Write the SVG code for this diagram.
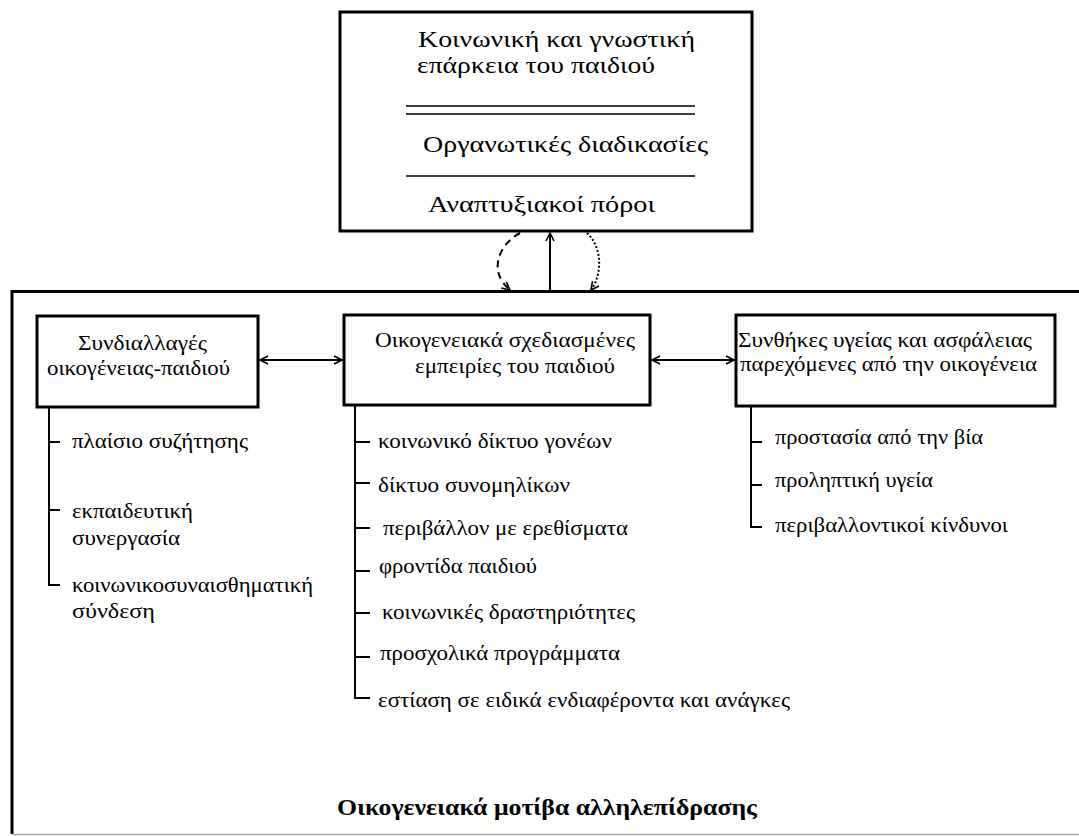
<svg xmlns="http://www.w3.org/2000/svg" width="1079" height="836" viewBox="0 0 1079 836" font-family="'Liberation Serif', serif">
<defs>
<style>
text{fill:#000;}
.big{font-size:24px;}
.mid{font-size:21px;}
.box{fill:#fff;stroke:#000;stroke-width:3;}
.ln{stroke:#000;stroke-width:2;fill:none;}
.title{font-size:24px;font-weight:bold;}
</style>
<marker id="v" viewBox="0 0 10 10" refX="9" refY="5" markerWidth="10" markerHeight="10" markerUnits="userSpaceOnUse" orient="auto-start-reverse">
<path d="M1,1 L9,5 L1,9" fill="none" stroke="#000" stroke-width="1.6"/>
</marker>
</defs>
<rect width="1079" height="836" fill="#fff"/>
<g id="outer">
<path d="M12,834 L12,291.5 L1085,291.5" fill="none" stroke="#000" stroke-width="3"/>
<line x1="12" y1="834.5" x2="1079" y2="834.5" stroke="#aaa" stroke-width="1.5"/>
<text class="title" x="337" y="815" textLength="420" lengthAdjust="spacingAndGlyphs">Οικογενειακά μοτίβα αλληλεπίδρασης</text>
</g>
<g id="top">
<rect class="box" x="340" y="12" width="412" height="219"/>
<text class="big" x="418" y="47" textLength="277" lengthAdjust="spacingAndGlyphs">Κοινωνική και γνωστική</text>
<text class="big" x="417" y="73" textLength="238" lengthAdjust="spacingAndGlyphs">επάρκεια του παιδιού</text>
<line x1="406" y1="106" x2="695" y2="106" stroke="#000" stroke-width="1.5"/>
<line x1="406" y1="114" x2="695" y2="114" stroke="#000" stroke-width="1.5"/>
<text class="big" x="423" y="152" textLength="285" lengthAdjust="spacingAndGlyphs">Οργανωτικές διαδικασίες</text>
<line x1="406" y1="176" x2="695" y2="176" stroke="#000" stroke-width="1.5"/>
<text class="big" x="428" y="212" textLength="227" lengthAdjust="spacingAndGlyphs">Αναπτυξιακοί πόροι</text>
</g>
<g id="n1">
<rect class="box" x="37" y="316" width="221" height="91"/>
<text class="mid" x="78" y="350" textLength="129" lengthAdjust="spacingAndGlyphs">Συνδιαλλαγές</text>
<text class="mid" x="47" y="375" textLength="183" lengthAdjust="spacingAndGlyphs">οικογένειας-παιδιού</text>
<path class="ln" d="M49,407 V585 H60 M49,442 H60 M49,510 H60"/>
<text class="mid" x="72" y="448" textLength="176" lengthAdjust="spacingAndGlyphs">πλαίσιο συζήτησης</text>
<text class="mid" x="72" y="518" textLength="121" lengthAdjust="spacingAndGlyphs">εκπαιδευτική</text>
<text class="mid" x="72" y="545" textLength="108" lengthAdjust="spacingAndGlyphs">συνεργασία</text>
<text class="mid" x="72" y="592" textLength="241" lengthAdjust="spacingAndGlyphs">κοινωνικοσυναισθηματική</text>
<text class="mid" x="72" y="618" textLength="83" lengthAdjust="spacingAndGlyphs">σύνδεση</text>
</g>
<g id="n2">
<rect class="box" x="344" y="315" width="306" height="90"/>
<text class="mid" x="375" y="347" textLength="260" lengthAdjust="spacingAndGlyphs">Οικογενειακά σχεδιασμένες</text>
<text class="mid" x="415" y="373" textLength="200" lengthAdjust="spacingAndGlyphs">εμπειρίες του παιδιού</text>
<path class="ln" d="M355,405 V698 H370 M355,442 H370 M355,483 H370 M355,528 H370 M355,571 H370 M355,613 H370 M355,657 H370"/>
<text class="mid" x="378" y="448" textLength="234" lengthAdjust="spacingAndGlyphs">κοινωνικό δίκτυο γονέων</text>
<text class="mid" x="378" y="492" textLength="192" lengthAdjust="spacingAndGlyphs">δίκτυο συνομηλίκων</text>
<text class="mid" x="383" y="535" textLength="245" lengthAdjust="spacingAndGlyphs">περιβάλλον με ερεθίσματα</text>
<text class="mid" x="379" y="573" textLength="158" lengthAdjust="spacingAndGlyphs">φροντίδα παιδιού</text>
<text class="mid" x="382" y="619" textLength="253" lengthAdjust="spacingAndGlyphs">κοινωνικές δραστηριότητες</text>
<text class="mid" x="380" y="660" textLength="240" lengthAdjust="spacingAndGlyphs">προσχολικά προγράμματα</text>
<text class="mid" x="378" y="707" textLength="412" lengthAdjust="spacingAndGlyphs">εστίαση σε ειδικά ενδιαφέροντα και ανάγκες</text>
</g>
<g id="n3">
<rect class="box" x="736" y="315" width="319" height="91"/>
<text class="mid" x="738" y="347" textLength="294" lengthAdjust="spacingAndGlyphs">Συνθήκες υγείας και ασφάλειας</text>
<text class="mid" x="740" y="371" textLength="297" lengthAdjust="spacingAndGlyphs">παρεχόμενες από την οικογένεια</text>
<path class="ln" d="M751,406 V527 H762 M751,442 H762 M751,485 H762"/>
<text class="mid" x="775" y="444" textLength="208" lengthAdjust="spacingAndGlyphs">προστασία από την βία</text>
<text class="mid" x="775" y="487" textLength="158" lengthAdjust="spacingAndGlyphs">προληπτική υγεία</text>
<text class="mid" x="775" y="532" textLength="233" lengthAdjust="spacingAndGlyphs">περιβαλλοντικοί κίνδυνοι</text>
</g>
<g id="connectors">
<line class="ln" x1="260" y1="360" x2="342" y2="360" marker-start="url(#v)" marker-end="url(#v)"/>
<line class="ln" x1="652" y1="360" x2="734" y2="360" marker-start="url(#v)" marker-end="url(#v)"/>
<line class="ln" x1="550" y1="290" x2="550" y2="233" marker-end="url(#v)"/>
<path class="ln" d="M520,233 C498,245 488,272 510,290" stroke-dasharray="7,5" marker-end="url(#v)"/>
<path class="ln" d="M587,233 C603,248 602,275 591,290" stroke-dasharray="2,2" stroke-width="1.6" marker-end="url(#v)"/>
</g>
</svg>
